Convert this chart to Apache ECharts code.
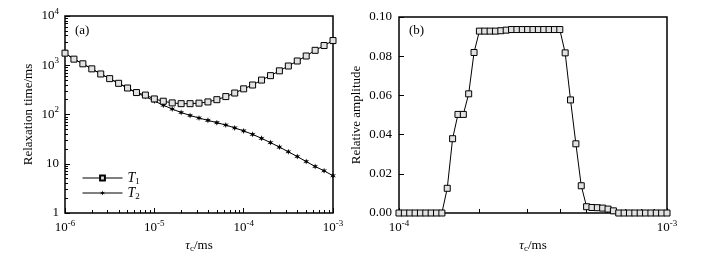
<!DOCTYPE html>
<html>
<head>
<meta charset="utf-8">
<script src="https://cdn.jsdelivr.net/npm/echarts@6/dist/echarts.min.js"></script>
<style>
  html, body { margin: 0; padding: 0; background: #fff; }
  #chart { width: 725px; height: 263px; }
</style>
</head>
<body>
<div id="chart"></div>
<script>
// (a) relaxation times vs correlation time, 10 points per decade 1e-6..1e-3
const tauA = [];
for (let i = 0; i <= 30; i++) tauA.push(Math.pow(10, -6 + i / 10));
const T1 = [1760, 1330, 1070, 845, 665, 535, 430, 345, 279, 248, 207, 186, 172, 166, 166,
            170, 180, 200, 231, 273, 332, 397, 500, 615, 770, 965, 1220, 1540, 2010, 2513, 3170];
const T2 = [1760, 1330, 1070, 845, 665, 535, 430, 345, 272, 232, 188, 155, 129, 110, 95.7,
            84.9, 76, 68.3, 61, 53.5, 46.4, 39.5, 32.8, 26.9, 21.8, 17.5, 14.0, 11.1, 8.8, 7.2, 5.7];

// (b) relative amplitude, 50 points per decade 1e-4..1e-3
const tauB = [];
for (let k = 0; k <= 50; k++) tauB.push(Math.pow(10, -4 + k * 0.02));
const amp = [0, 0, 0, 0, 0, 0, 0, 0, 0,
             0.0126, 0.0379, 0.0503, 0.0503, 0.0608, 0.0819,
             0.0928, 0.0928, 0.0928, 0.0928, 0.0930, 0.0933,
             0.0936, 0.0936, 0.0936, 0.0936, 0.0936, 0.0936, 0.0936, 0.0936, 0.0936, 0.0936,
             0.0817, 0.0577, 0.0353, 0.0139,
             0.0032, 0.0028, 0.0027, 0.0025, 0.0020, 0.0011,
             0, 0, 0, 0, 0, 0, 0, 0, 0, 0];

// tick labels
const xTicksA = [1e-6, 1e-5, 1e-4, 1e-3];
const yTicksA = [1, 10, 100, 1000, 10000];
const xTicksB = [1e-4, 1e-3];

function minorTicks(fromExp, toExp) {
    let out = [];
    for (let e = fromExp; e < toExp; e++) {
        for (let m = 2; m <= 9; m++) out.push(m * Math.pow(10, e));
    }
    return out;
}

const FONT = '"Liberation Serif", "Times New Roman", serif';
const supRich = {
    b: { fontFamily: FONT, fontSize: 13, color: '#000' },
    sup: { fontFamily: FONT, fontSize: 9, color: '#000', padding: [0, 0, 9, 0] }
};
function powLabel(v) {
    let e = Math.round(Math.log10(v));
    if (e === 0) return '{b|1}';
    if (e === 1) return '{b|10}';
    return '{b|10}{sup|' + e + '}';
}
const tauName = '{i|τ}{s|c}{b|/ms}';
const tauRich = {
    i: { fontFamily: FONT, fontSize: 13, fontStyle: 'italic', color: '#000' },
    s: { fontFamily: FONT, fontSize: 9, color: '#000', padding: [6, 0, 0, 0] },
    b: { fontFamily: FONT, fontSize: 13, color: '#000' }
};

const starPath = 'path://M0,-10L2.2,-3.5L9,-5.5L4,0L9,5.5L2.2,3.5L0,10L-2.2,3.5L-9,5.5L-4,0L-9,-5.5L-2.2,-3.5Z';

let chart = echarts.init(document.getElementById('chart'));

let option = {
    animation: false,
    textStyle: { fontFamily: FONT },
    grid: [
        { left: 65, top: 16, width: 268, height: 197, show: true, borderColor: '#000', borderWidth: 1.5 },
        { left: 399, top: 17, width: 268, height: 196, show: true, borderColor: '#000', borderWidth: 1.5 }
    ],
    title: [
        { text: '(a)', left: 70, top: 19, textStyle: { fontFamily: FONT, fontSize: 13, fontWeight: 'normal', color: '#000' } },
        { text: '(b)', left: 404, top: 19, textStyle: { fontFamily: FONT, fontSize: 13, fontWeight: 'normal', color: '#000' } }
    ],
    legend: {
        orient: 'vertical',
        left: 77,
        top: 166,
        itemWidth: 40,
        itemHeight: 6,
        itemGap: 0,
        data: ['T1', 'T2'],
        lineStyle: { width: 1 },
        formatter: function (name) {
            return '{i|T}{s|' + name.slice(1) + '}';
        },
        textStyle: {
            rich: {
                i: { fontFamily: FONT, fontSize: 14, fontStyle: 'italic', color: '#000' },
                s: { fontFamily: FONT, fontSize: 9, color: '#000', padding: [7, 0, 0, 0] }
            }
        }
    },
    xAxis: [
        {
            type: 'log', gridIndex: 0, position: 'bottom', min: 1e-6, max: 1e-3, logBase: 10,
            name: tauName, nameLocation: 'middle', nameGap: 25,
            nameTextStyle: { rich: tauRich },
            axisLine: { show: false },
            axisTick: { inside: true, length: 5, customValues: xTicksA, lineStyle: { color: '#000' } },
            axisLabel: { customValues: xTicksA, formatter: powLabel, rich: supRich, margin: 6 },
            splitLine: { show: false }
        },
        {
            type: 'log', gridIndex: 0, position: 'bottom', min: 1e-6, max: 1e-3, logBase: 10,
            axisLine: { show: false },
            axisTick: { inside: true, length: 3, customValues: minorTicks(-6, -3), lineStyle: { color: '#000' } },
            axisLabel: { show: false },
            splitLine: { show: false }
        },
        {
            type: 'log', gridIndex: 1, position: 'bottom', min: 1e-4, max: 1e-3, logBase: 10,
            name: tauName, nameLocation: 'middle', nameGap: 25,
            nameTextStyle: { rich: tauRich },
            axisLine: { show: false },
            axisTick: { inside: true, length: 5, customValues: xTicksB, lineStyle: { color: '#000' } },
            axisLabel: { customValues: xTicksB, formatter: powLabel, rich: supRich, margin: 6 },
            splitLine: { show: false }
        },
        {
            type: 'log', gridIndex: 1, position: 'bottom', min: 1e-4, max: 1e-3, logBase: 10,
            axisLine: { show: false },
            axisTick: { inside: true, length: 4, customValues: minorTicks(-4, -3), lineStyle: { color: '#000' } },
            axisLabel: { show: false },
            splitLine: { show: false }
        }
    ],
    yAxis: [
        {
            type: 'log', gridIndex: 0, position: 'left', min: 1, max: 10000, logBase: 10,
            name: 'Relaxation time/ms', nameLocation: 'middle', nameGap: 30,
            nameTextStyle: { fontFamily: FONT, fontSize: 13, color: '#000' },
            axisLine: { show: false },
            axisTick: { inside: true, length: 5, customValues: yTicksA, lineStyle: { color: '#000' } },
            axisLabel: { customValues: yTicksA, formatter: powLabel, rich: supRich, margin: 6 },
            splitLine: { show: false }
        },
        {
            type: 'log', gridIndex: 0, position: 'left', min: 1, max: 10000, logBase: 10,
            axisLine: { show: false },
            axisTick: { inside: true, length: 3, customValues: minorTicks(0, 4), lineStyle: { color: '#000' } },
            axisLabel: { show: false },
            splitLine: { show: false }
        },
        {
            type: 'value', gridIndex: 1, position: 'left', min: 0, max: 0.1, interval: 0.02,
            name: 'Relative amplitude', nameLocation: 'middle', nameGap: 36,
            nameTextStyle: { fontFamily: FONT, fontSize: 13, color: '#000' },
            axisLine: { show: false },
            axisTick: { inside: true, length: 5, lineStyle: { color: '#000' } },
            axisLabel: {
                formatter: function (v) { return v.toFixed(2); },
                fontFamily: FONT, fontSize: 13, color: '#000', margin: 7
            },
            splitLine: { show: false }
        }
    ],
    series: [
        {
            name: 'T1', type: 'line', xAxisIndex: 0, yAxisIndex: 0,
            data: tauA.map((t, i) => [t, T1[i]]),
            symbol: 'rect', symbolSize: 6, clip: false, z: 3,
            lineStyle: { color: '#000', width: 1 },
            itemStyle: { color: '#e2e2e2', borderColor: '#000', borderWidth: 1 }
        },
        {
            name: 'T2', type: 'line', xAxisIndex: 0, yAxisIndex: 0,
            data: tauA.map((t, i) => [t, T2[i]]),
            symbol: starPath, symbolSize: 6, clip: false, z: 2,
            lineStyle: { color: '#000', width: 1 },
            itemStyle: { color: '#000', borderWidth: 0 }
        },
        {
            name: 'amp', type: 'line', xAxisIndex: 2, yAxisIndex: 2,
            data: tauB.map((t, i) => [t, amp[i]]),
            symbol: 'rect', symbolSize: 6, clip: false,
            lineStyle: { color: '#000', width: 1 },
            itemStyle: { color: '#e2e2e2', borderColor: '#000', borderWidth: 1 }
        }
    ]
};

chart.setOption(option);
</script>
</body>
</html>
